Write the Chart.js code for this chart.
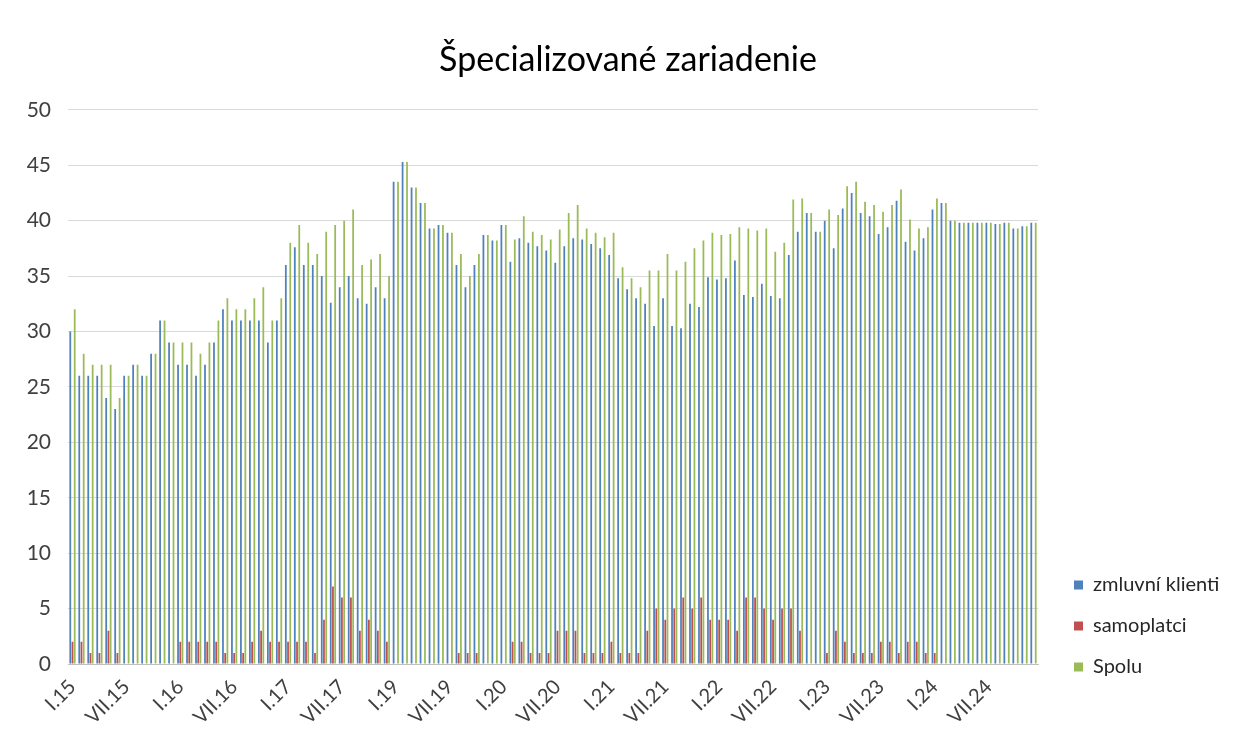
<!DOCTYPE html>
<html>
<head>
<meta charset="utf-8">
<script src="https://cdn.jsdelivr.net/npm/chart.js@4.4.1/dist/chart.umd.min.js"></script>
<style>
  html, body { margin: 0; padding: 0; background: #ffffff; }
  #wrap { width: 1256px; height: 752px; position: relative; }
</style>
</head>
<body>
<div id="wrap"><canvas id="c" width="1256" height="752"></canvas></div>
<script>
const chartTitle = 'Špecializované zariadenie';
const seriesNames = ['zmluvní klienti', 'samoplatci', 'Spolu'];
const months = ['I','II','III','IV','V','VI','VII','VIII','IX','X','XI','XII'];
const years = ['15','16','17','19','20','21','22','23','24'];
const shownMonths = ['I','VII'];
const yTicks = [0, 5, 10, 15, 20, 25, 30, 35, 40, 45, 50];

const zmluvni = [
  30,26,26,26,24,23,26,27,26,28,31,29,
  27,27,26,27,29,32,31,31,31,31,29,31,
  36,37.6,36,36,35,32.6,34,35,33,32.5,34,33,
  43.5,45.3,43,41.6,39.3,39.6,38.9,36,34,36,38.7,38.2,
  39.6,36.3,38.4,38,37.7,37.3,36.2,37.7,38.4,38.3,37.9,37.5,
  36.9,34.8,33.8,33,32.5,30.5,33,30.5,30.3,32.5,32.2,34.9,
  34.7,34.8,36.4,33.3,33.1,34.3,33.2,33,36.9,39,40.7,39,
  40,37.5,41.1,42.5,40.7,40.4,38.8,39.4,41.8,38.1,37.3,38.4,
  41,41.6,40,39.8,39.8,39.8,39.8,39.7,39.8,39.3,39.5,39.8
];
const samoplatci = [
  2,2,1,1,3,1,0,0,0,0,0,0,
  2,2,2,2,2,1,1,1,2,3,2,2,
  2,2,2,1,4,7,6,6,3,4,3,2,
  0,0,0,0,0,0,0,1,1,1,0,0,
  0,2,2,1,1,1,3,3,3,1,1,1,
  2,1,1,1,3,5,4,5,6,5,6,4,
  4,4,3,6,6,5,4,5,5,3,0,0,
  1,3,2,1,1,1,2,2,1,2,2,1,
  1,0,0,0,0,0,0,0,0,0,0,0
];
const spolu = [
  32,28,27,27,27,24,26,27,26,28,31,29,
  29,29,28,29,31,33,32,32,33,34,31,33,
  38,39.6,38,37,39,39.6,40,41,36,36.5,37,35,
  43.5,45.3,43,41.6,39.3,39.6,38.9,37,35,37,38.7,38.2,
  39.6,38.3,40.4,39,38.7,38.3,39.2,40.7,41.4,39.3,38.9,38.5,
  38.9,35.8,34.8,34,35.5,35.5,37,35.5,36.3,37.5,38.2,38.9,
  38.7,38.8,39.4,39.3,39.1,39.3,37.2,38,41.9,42,40.7,39,
  41,40.5,43.1,43.5,41.7,41.4,40.8,41.4,42.8,40.1,39.3,39.4,
  42,41.6,40,39.8,39.8,39.8,39.8,39.7,39.8,39.3,39.5,39.8
];

const categories = [];
years.forEach(y => months.forEach(m => categories.push(m + '.' + y)));

const FONT = 'Lato, "Open Sans", "DejaVu Sans", sans-serif';

const legendPlace = {
  id: 'legendPlace',
  beforeInit(chart) {
    const orig = chart.legend.fit;
    chart.legend.fit = function () { orig.call(this); this.width = 200; };
  },
  afterLayout(chart) {
    const lg = chart.legend;
    const h = lg.bottom - lg.top;
    lg.left = 1053; lg.right = lg.left + lg.width;
    lg.bottom = 698; lg.top = lg.bottom - h;
  }
};

new Chart(document.getElementById('c'), {
  type: 'bar',
  data: {
    labels: categories,
    datasets: [
      { label: seriesNames[0], data: zmluvni, backgroundColor: '#4f81bd' },
      { label: seriesNames[1], data: samoplatci, backgroundColor: '#c0504d' },
      { label: seriesNames[2], data: spolu, backgroundColor: '#9bbb59' }
    ]
  },
  options: {
    responsive: false,
    animation: false,
    devicePixelRatio: 1,
    datasets: { bar: { categoryPercentage: 0.74, barPercentage: 0.8 } },
    layout: { padding: { left: 18, right: 18, top: 0, bottom: 8 } },
    plugins: {
      title: {
        display: true,
        text: chartTitle,
        color: '#000000',
        font: { family: FONT, size: 34, weight: 'normal' },
        padding: { top: 40, bottom: 29 }
      },
      legend: {
        position: 'right',
        align: 'end',
        labels: {
          boxWidth: 9,
          boxHeight: 9,
          padding: 21,
          color: '#262626',
          font: { family: FONT, size: 20 }
        }
      },
      tooltip: { enabled: false }
    },
    scales: {
      x: {
        grid: { display: false },
        border: { display: true, color: '#bfbfbf' },
        ticks: {
          autoSkip: false,
          minRotation: 45,
          maxRotation: 45,
          color: '#404040',
          font: { family: FONT, size: 20 },
          callback: function (value, index) {
            const lab = categories[index];
            return shownMonths.includes(lab.split('.')[0]) ? lab : '';
          }
        },
        afterFit: s => { s.height = 80; }
      },
      y: {
        min: 0,
        max: 50,
        afterBuildTicks: s => { s.ticks = yTicks.map(v => ({ value: v })); },
        grid: { color: '#d9d9d9', drawTicks: false },
        border: { display: false },
        ticks: {
          padding: 17,
          color: '#404040',
          font: { family: FONT, size: 21 }
        },
        afterFit: s => { s.width = 50; }
      }
    }
  },
  plugins: [legendPlace]
});
</script>
</body>
</html>
